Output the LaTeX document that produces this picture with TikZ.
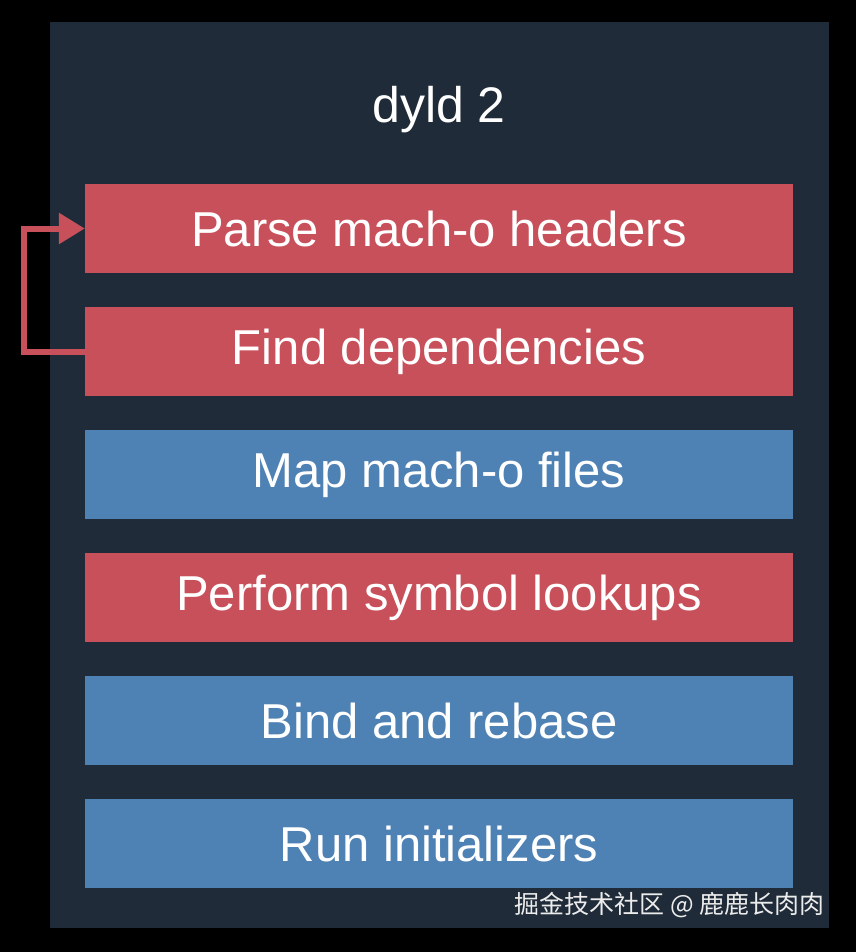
\documentclass[tikz,border=0pt]{standalone}
\usepackage{fontspec}
\setmainfont{Liberation Sans}
\newfontfamily\cjk{Noto Sans CJK SC}
\usetikzlibrary{arrows.meta,positioning}

\definecolor{panelbg}{HTML}{1F2B38}
\definecolor{stepred}{HTML}{C8505A}
\definecolor{stepblue}{HTML}{4F82B4}

\begin{document}
\begin{tikzpicture}[%
    x=1pt, y=-1pt,
    >={Triangle[length=26pt,width=30pt]},
    node distance=33.6pt,
    stepbox/.style={rectangle, minimum width=708pt, minimum height=89pt,
                    inner sep=0pt, text=white,
                    font=\fontsize{49}{58}\selectfont},
    redstep/.style={stepbox, fill=stepred},
    bluestep/.style={stepbox, fill=stepblue}
    ]
    \useasboundingbox (0,0) rectangle (856,952);
    \fill[black] (0,0) rectangle (856,952);
    \fill[panelbg] (50,22) rectangle (829,928);

    \node[text=white, font=\fontsize{50}{60}\selectfont] (title) at (439,110) {dyld 2};

    \node[redstep]  (parse) at (439,228.5) {Parse mach-o headers};
    \node[redstep]  (find)    [below=of parse]  {Find dependencies};
    \node[bluestep] (map)     [below=of find]   {Map mach-o files};
    \node[redstep]  (lookup)  [below=of map]    {Perform symbol lookups};
    \node[bluestep] (bind)    [below=of lookup] {Bind and rebase};
    \node[bluestep] (init)    [below=of bind]   {Run initializers};

    % loop back from dependencies to headers
    \draw[->, stepred, line width=6pt] (find.west) -- ++(-61,0) |- (parse.west);

    \node[text=white!85!gray, font=\cjk\fontsize{25}{30}\selectfont, anchor=east] (mark) at (828,905) {掘金技术社区 @ 鹿鹿长肉肉};
\end{tikzpicture}
\end{document}
